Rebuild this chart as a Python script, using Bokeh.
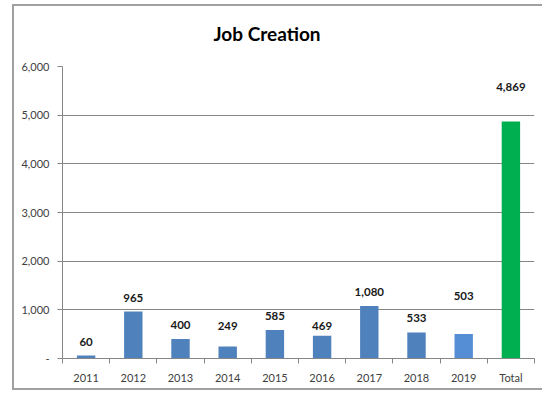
from bokeh.plotting import figure
from bokeh.models import (Range1d, FixedTicker, Title,
                          CustomJSTickFormatter, NumeralTickFormatter, ColumnDataSource, LabelSet)
from bokeh.core.properties import value
from bokeh.embed import file_html
from bokeh.resources import INLINE

# ---- data ----
categories = ["2011", "2012", "2013", "2014", "2015", "2016", "2017", "2018", "2019", "Total"]
jobs = [60, 965, 400, 249, 585, 469, 1080, 533, 503, 4869]
y_ticks = [0, 1000, 2000, 3000, 4000, 5000, 6000]
title_text = "Job Creation"

# ---- styles ----
bar_colors = ["#4F81BD"] * 8 + ["#558ED5", "#00B050"]
label_lift = [14, 14, 14.5, 20, 14.5, 10, 14, 14.5, 38, 35]   # px between bar top and label centre
FONT = "Lato"
GRID = "#868686"

n = len(categories)
slot = [i + 0.5 for i in range(n)]          # centre of each category slot on the axis

src = ColumnDataSource(dict(
    x=slot,
    cat=categories,
    jobs=jobs,
    color=bar_colors,
    lift=label_lift,
    txt=[f"{v:,}" for v in jobs],
))

p = figure(
    x_range=Range1d(0, n),
    y_range=Range1d(y_ticks[0], y_ticks[-1]),
    width=530, height=386,
    min_border_left=48, min_border_right=10, min_border_top=60, min_border_bottom=34,
    output_backend="svg", toolbar_location=None,
)
p.styles = {"margin-left": "12px", "margin-top": "4px",
            "border-left": "2px solid #a0a0a0", "border-top": "2px solid #a0a0a0",
            "border-bottom": "2px solid #a0a0a0"}
p.outline_line_color = None
p.background_fill_color = "white"
p.border_fill_color = "white"

# spacer between the title and the plot area
p.add_layout(Title(text=" ", text_font=FONT, text_font_size="4px"), "above")

# title
p.title.text = title_text
p.title.align = "left"
p.title.offset = 151
p.title.text_font = FONT
p.title.text_font_size = "19px"
p.title.text_font_style = "bold"
p.title.text_color = "#000000"

# bars
p.vbar(x="x", top="jobs", width=0.39, color="color", line_color=None, source=src)

# value labels
p.add_layout(LabelSet(x="x", y="jobs", text="txt", y_offset="lift", source=src,
                      text_align="center", text_baseline="middle",
                      text_font=value(FONT), text_font_size="11.5px",
                      text_font_style="bold", text_color="#1a1a1a"))

# y axis
yax = p.yaxis[0]
yax.ticker = FixedTicker(ticks=y_ticks)
yax.formatter = NumeralTickFormatter(format="0,0")
yax.major_label_overrides = {0: "-"}
yax.axis_line_color = GRID
yax.major_tick_line_color = GRID
yax.major_tick_in = 0
yax.major_tick_out = 5
yax.minor_tick_line_color = None
yax.major_label_standoff = 8
yax.major_label_text_font = FONT
yax.major_label_text_font_size = "11px"
yax.major_label_text_color = "#404040"

p.ygrid.grid_line_color = GRID
p.ygrid.ticker = FixedTicker(ticks=y_ticks)
p.xgrid.visible = False

# x axis: labels at category centres, ticks at category boundaries
xax = p.xaxis[0]
xax.ticker = FixedTicker(ticks=slot, minor_ticks=list(range(n + 1)))
xax.formatter = CustomJSTickFormatter(args=dict(cats=categories), code="return cats[Math.floor(tick)];")
xax.axis_line_color = GRID
xax.major_tick_line_color = None
xax.major_tick_out = 0
xax.major_tick_in = 0
xax.minor_tick_line_color = GRID
xax.minor_tick_in = 0
xax.minor_tick_out = 5
xax.major_label_standoff = 7
xax.major_label_text_font = FONT
xax.major_label_text_font_size = "11px"
xax.major_label_text_color = "#404040"

open("out.html", "w").write(file_html(p, INLINE))
